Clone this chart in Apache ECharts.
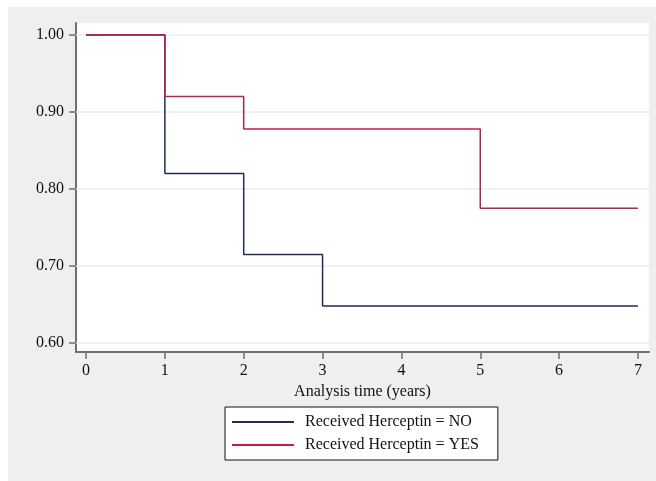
<!DOCTYPE html>
<html>
<head>
<meta charset="utf-8">
<script src="https://cdn.jsdelivr.net/npm/echarts@6/dist/echarts.min.js"></script>
<style>
html,body{margin:0;padding:0;background:#fff;}
#c{width:656px;height:481px;}
</style>
</head>
<body>
<div id="c"></div>
<script>
var seriesNames = ['Received Herceptin = NO', 'Received Herceptin = YES'];
var timesNo = [0, 1, 2, 3, 7];
var survNo = [1.00, 0.82, 0.715, 0.648, 0.648];
var timesYes = [0, 1, 2, 5, 7];
var survYes = [1.00, 0.92, 0.878, 0.775, 0.775];
var xTicks = [0, 1, 2, 3, 4, 5, 6, 7];
var yTicks = [0.60, 0.70, 0.80, 0.90, 1.00];
var xTitle = 'Analysis time (years)';

function pairs(xs, ys) { return xs.map(function (x, i) { return [x, ys[i]]; }); }

var font = 'Liberation Serif';
var axisColor = '#6f6f6f';
var chart = echarts.init(document.getElementById('c'), null, {renderer: 'canvas'});
chart.setOption({
  backgroundColor: '#ffffff',
  animation: false,
  graphic: [{
    type: 'rect', z: -10, silent: true,
    shape: {x: 8, y: 7, width: 648, height: 474},
    style: {fill: '#efefef'}
  }],
  grid: {left: 76, top: 23, right: 7, bottom: 129, show: true, backgroundColor: '#ffffff', borderWidth: 0},
  xAxis: {
    type: 'value', min: -0.127, max: 7.14,
    name: xTitle, nameLocation: 'middle', nameGap: 26,
    nameTextStyle: {fontFamily: font, fontSize: 16, color: '#111'},
    axisLine: {show: true, onZero: false, lineStyle: {color: axisColor, width: 2}},
    axisTick: {show: true, length: 7, customValues: xTicks, lineStyle: {color: axisColor, width: 1.5}},
    axisLabel: {customValues: xTicks, fontFamily: font, fontSize: 16, color: '#111', margin: 11,
      formatter: function (v) { return String(v); }},
    splitLine: {show: false}
  },
  yAxis: {
    type: 'value', min: 0.5883, max: 1.0155,
    axisLine: {show: true, onZero: false, lineStyle: {color: axisColor, width: 2}},
    axisTick: {show: true, length: 7, customValues: yTicks, lineStyle: {color: axisColor, width: 1.5}},
    axisLabel: {customValues: yTicks, fontFamily: font, fontSize: 16, color: '#111', margin: 12,
      formatter: function (v) { return v.toFixed(2); }},
    splitLine: {show: false}
  },
  legend: {
    orient: 'vertical', left: 225, top: 407,
    padding: [7, 19, 7, 7],
    backgroundColor: '#ffffff', borderColor: '#111', borderWidth: 1,
    icon: 'rect', itemWidth: 62, itemHeight: 2, itemGap: 7,
    textStyle: {fontFamily: font, fontSize: 16, color: '#111', lineHeight: 16, padding: [0, 0, 0, 6]},
    data: seriesNames
  },
  series: [
    {
      type: 'custom', name: '_grid', z: 1, silent: true,
      data: yTicks,
      encode: {y: 0},
      renderItem: function (params, api) {
        var cs = params.coordSys;
        var y = api.coord([0, api.value(0)])[1];
        return {
          type: 'line',
          shape: {x1: cs.x, y1: y, x2: cs.x + cs.width, y2: y},
          style: {stroke: '#e7eef1', lineWidth: 1.5}
        };
      }
    },
    {
      type: 'line', name: seriesNames[0], step: 'end', z: 3,
      data: pairs(timesNo, survNo), showSymbol: false, symbol: 'none',
      color: '#1f2d5c', lineStyle: {color: '#1f2d5c', width: 1.5}
    },
    {
      type: 'line', name: seriesNames[1], step: 'end', z: 4,
      data: pairs(timesYes, survYes), showSymbol: false, symbol: 'none',
      color: '#c41e48', lineStyle: {color: '#c41e48', width: 1.5}
    }
  ]
});
</script>
</body>
</html>
